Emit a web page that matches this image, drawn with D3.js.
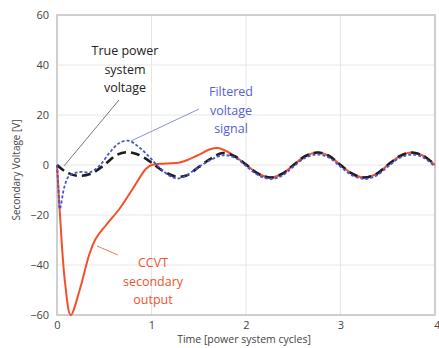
<!DOCTYPE html>
<html>
<head>
<meta charset="utf-8">
<script src="https://cdn.jsdelivr.net/npm/d3@7"></script>
<style>
  body { margin: 0; background: #fff; }
  text { font-family: 'Open Sans', sans-serif; }
</style>
</head>
<body>
<svg id="chart" width="439" height="348"></svg>
<script>
// values: [time in cycles, secondary voltage]
const trueVoltage = [
  [0, 0], [0.1, -2.9], [0.21, -4.3], [0.35, -3.6], [0.49, -0.3], [0.63, 4], [0.74, 5.1], [0.85, 4.3],
  [0.98, 1.5], [1.05, -0.5], [1.15, -3], [1.26, -4.6], [1.37, -4.2], [1.5, -0.8], [1.63, 2.6], [1.75, 4.8],
  [1.88, 3.5], [2.0, 0.2], [2.13, -3.5], [2.26, -5], [2.38, -3.6], [2.5, -0.1], [2.63, 3.6], [2.76, 5],
  [2.88, 3.6], [3.0, 0], [3.13, -3.6], [3.25, -5], [3.38, -3.6], [3.5, 0], [3.63, 3.6], [3.75, 5],
  [3.88, 3.6], [4.0, 0]
]
const filteredVoltage = [
  [0, 0], [0.015, -9], [0.03, -17.6], [0.08, -8.5], [0.13, -4.3], [0.24, -2.8], [0.35, -2.9], [0.45, -0.3],
  [0.56, 5.1], [0.66, 8.8], [0.76, 9.7], [0.87, 7.1], [0.98, 3.1], [1.08, -0.9], [1.19, -4.3], [1.27, -5.4],
  [1.34, -4.8], [1.47, -1.6], [1.61, 1.7], [1.76, 3.9], [1.88, 3.0], [2.0, -0.4], [2.13, -4.1], [2.26, -5.6],
  [2.38, -4.3], [2.5, -0.7], [2.63, 2.9], [2.76, 4.2], [2.88, 2.9], [3.0, -0.7], [3.13, -4.3], [3.26, -5.6],
  [3.38, -4.3], [3.5, -0.7], [3.63, 2.9], [3.76, 4.2], [3.88, 2.9], [4.0, -0.7]
]
const ccvtOutput = [
  [0, 0], [0.03, -19], [0.085, -47], [0.145, -60], [0.24, -50], [0.34, -36], [0.41, -29.5], [0.52, -24],
  [0.66, -17.6], [0.8, -9.6], [0.94, -1.6], [1.0, 0], [1.09, 0.5], [1.31, 1.1], [1.48, 3.7], [1.62, 6.3],
  [1.7, 6.8], [1.8, 5.4], [1.9, 3], [2.0, 0.2], [2.13, -3.5], [2.26, -5], [2.38, -3.6], [2.5, -0.1],
  [2.63, 3.6], [2.76, 5], [2.88, 3.6], [3.0, 0], [3.13, -3.6], [3.25, -5], [3.38, -3.6], [3.5, 0],
  [3.63, 3.6], [3.75, 5], [3.88, 3.6], [4.0, 0]
]
const xTicks = [0, 1, 2, 3, 4]
const yTicks = [-60, -40, -20, 0, 20, 40, 60]

const margin = { top: 15, right: 4, bottom: 33, left: 57 }
const width = 439 - margin.left - margin.right
const height = 348 - margin.top - margin.bottom

const svg = d3.select('#chart')
const chart = svg.append('g')
  .attr('transform', 'translate(' + margin.left + ',' + margin.top + ')')

const x = d3.scaleLinear().domain([0, 4]).range([0, width])
const y = d3.scaleLinear().domain([-60, 60]).range([height, 0])

// grid
chart.append('g').selectAll('line').data(yTicks.slice(1, -1)).enter().append('line')
  .attr('x1', 0).attr('x2', width)
  .attr('y1', d => y(d)).attr('y2', d => y(d))
  .attr('stroke', '#e6e6e6').attr('stroke-width', 1)
chart.append('g').selectAll('line').data(xTicks.slice(1, -1)).enter().append('line')
  .attr('x1', d => x(d)).attr('x2', d => x(d))
  .attr('y1', 0).attr('y2', height)
  .attr('stroke', '#e6e6e6').attr('stroke-width', 1)

// axes (labels only, frame drawn separately)
const xAxis = d3.axisBottom(x).tickValues(xTicks).tickFormat(d3.format('d')).tickSize(0).tickPadding(6)
chart.append('g').attr('transform', 'translate(0,' + height + ')').call(xAxis)
  .call(g => g.select('.domain').remove())
  .selectAll('text').attr('font-size', '11px').attr('fill', '#444')
  .filter(d => d === 4).attr('text-anchor', 'end').attr('dx', '5')
const yAxis = d3.axisLeft(y).tickValues(yTicks).tickSize(0).tickPadding(8)
chart.append('g').call(yAxis)
  .call(g => g.select('.domain').remove())
  .selectAll('text').attr('font-size', '11px').attr('fill', '#444')

chart.append('rect')
  .attr('x', 0).attr('y', 0).attr('width', width).attr('height', height)
  .attr('fill', 'none').attr('stroke', '#cfcfcf').attr('stroke-width', 2)

svg.append('text')
  .attr('x', margin.left + x(2) - 2).attr('y', 343)
  .attr('text-anchor', 'middle').attr('font-size', '10.5px').attr('fill', '#444')
  .text('Time [power system cycles]')
svg.append('text')
  .attr('transform', 'translate(20,' + (margin.top + y(-2)) + ') rotate(-90)')
  .attr('text-anchor', 'middle').attr('font-size', '10px').attr('fill', '#444')
  .text('Secondary Voltage [V]')

const line = d3.line()
  .x(d => x(d[0]))
  .y(d => y(d[1]))
  .curve(d3.curveCatmullRom.alpha(0.5))

const plot = chart.append('g')
plot.append('path').datum(ccvtOutput).attr('d', line)
  .attr('fill', 'none').attr('stroke', '#f2512b').attr('stroke-width', 2)
plot.append('path').datum(trueVoltage).attr('d', line)
  .attr('fill', 'none').attr('stroke', '#1e1e1e').attr('stroke-width', 2.6)
  .attr('stroke-dasharray', '9,5')
plot.append('path').datum(filteredVoltage).attr('d', line)
  .attr('fill', 'none').attr('stroke', '#4b55cc').attr('stroke-width', 1.8)
  .attr('stroke-dasharray', '3,2')

// annotations
const notes = [
  { lines: ['True power', 'system', 'voltage'], cx: 125, y0: 55, color: '#222', from: [119, 100], to: [64, 166], lineColor: '#777' },
  { lines: ['Filtered', 'voltage', 'signal'], cx: 231, y0: 96, color: '#5a60cc', from: [199, 109], to: [131, 141], lineColor: '#8a8fe0' },
  { lines: ['CCVT', 'secondary', 'output'], cx: 153, y0: 267, color: '#f2512b', from: [118, 255], to: [97, 246], lineColor: '#f47a5c' }
]
notes.forEach(n => {
  svg.append('line')
    .attr('x1', n.from[0]).attr('y1', n.from[1]).attr('x2', n.to[0]).attr('y2', n.to[1])
    .attr('stroke', n.lineColor).attr('stroke-width', 1)
  const t = svg.append('text').attr('text-anchor', 'middle').attr('font-size', '12.5px').attr('fill', n.color)
  n.lines.forEach((s, i) => {
    t.append('tspan').attr('x', n.cx).attr('y', n.y0 + i * 18.5).text(s)
  })
})
</script>
</body>
</html>
